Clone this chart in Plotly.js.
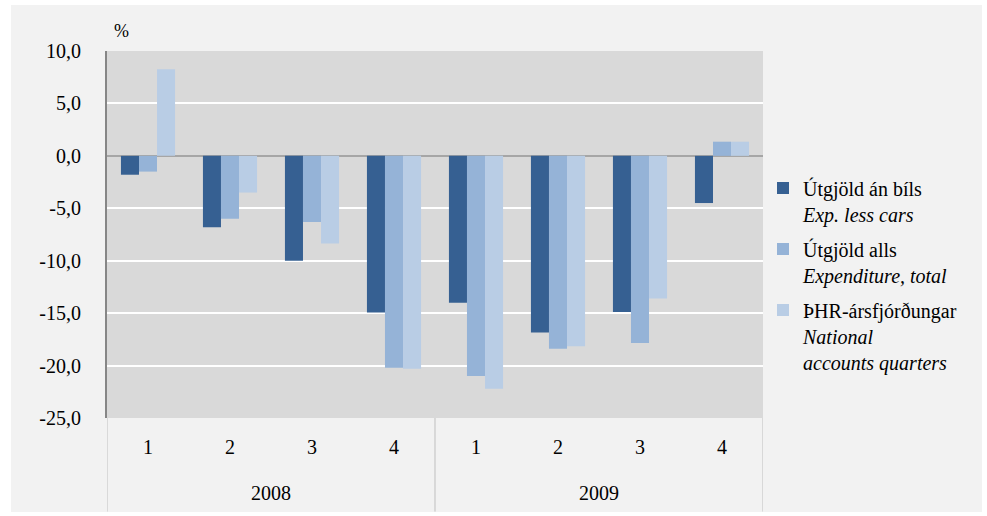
<!DOCTYPE html>
<html><head><meta charset="utf-8">
<script src="https://cdn.plot.ly/plotly-3.0.1.min.js"></script>
<style>html,body{margin:0;padding:0;background:#fff;}#chart{position:absolute;left:11px;top:5px;width:971px;height:507px;}</style>
</head><body><div id="chart"></div>
<script>
const years = ['2008','2008','2008','2008','2009','2009','2009','2009'];
const quarters = ['1','2','3','4','1','2','3','4'];
const yearLabels = ['2008', '2009'];
const expLessCars = [-1.8, -6.8, -10.0, -14.95, -14.0, -16.85, -14.9, -4.5];
const expTotal = [-1.5, -6.0, -6.3, -20.2, -21.0, -18.4, -17.85, 1.35];
const naQuarters = [8.25, -3.5, -8.35, -20.3, -22.2, -18.15, -13.6, 1.35];
const seriesNames = ['Útgjöld án bíls<br><i>Exp. less cars</i>', 'Útgjöld alls<br><i>Expenditure, total</i>', 'ÞHR-ársfjórðungar<br><i>National</i><br><i>accounts quarters</i>'];
const yTickVals = [10, 5, 0, -5, -10, -15, -20, -25];
const yTickText = ['10,0', '5,0', '0,0', '-5,0', '-10,0', '-15,0', '-20,0', '-25,0'];
const colors = ['#366092', '#95b3d7', '#b9cde5'];

const cats = years.map((y, i) => y + '-' + quarters[i]);
const data = [expLessCars, expTotal, naQuarters].map((vals, i) => ({
  type: 'bar', x: cats, y: vals, name: seriesNames[i], legendgroup: 'g' + i,
  marker: {color: colors[i], line: {width: 0}}
}));
const F = (size) => ({family: 'Liberation Serif', size: size, color: '#000000'});

const annotations = [{text: '%', xref: 'paper', yref: 'paper', x: 0.022, y: 1.0, xanchor: 'center', yanchor: 'bottom', showarrow: false, font: F(18), yshift: 8}];
yearLabels.forEach((yr) => {
  const idx = years.map((y, i) => y === yr ? i : -1).filter(i => i >= 0);
  const mid = (idx[0] + idx[idx.length - 1]) / 2;
  annotations.push({text: yr, xref: 'x', yref: 'paper', x: mid, y: 0, yshift: -75, xanchor: 'center', yanchor: 'middle', showarrow: false, font: F(20)});
});
const shapes = [];
const bounds = [-0.5];
yearLabels.forEach(yr => { bounds.push(years.lastIndexOf(yr) + 0.5); });
bounds.forEach(b => shapes.push({type: 'line', xref: 'x', yref: 'paper', x0: b, x1: b, y0: 0, y1: -0.255, line: {color: '#bfbfbf', width: 1}}));

const layout = {
  width: 971, height: 507,
  paper_bgcolor: '#f2f2f2', plot_bgcolor: '#d9d9d9',
  margin: {l: 96, r: 219, t: 46, b: 94},
  font: F(20),
  barmode: 'group', bargap: 0.34, bargroupgap: 0,
  showlegend: true,
  legend: {x: 1.0, xanchor: 'left', y: 0.68, yanchor: 'top', font: F(20),
           bgcolor: 'rgba(0,0,0,0)', itemwidth: 30, traceorder: 'grouped', tracegroupgap: 6, valign: 'top'},
  xaxis: {type: 'category', tickvals: cats, ticktext: quarters, showgrid: false, showline: false,
          ticks: 'outside', ticklen: 11, tickcolor: 'rgba(0,0,0,0)', tickfont: F(20), range: [-0.5, 7.5]},
  yaxis: {range: [-25, 10], tickvals: yTickVals, ticktext: yTickText, tickfont: F(20),
          showgrid: true, gridcolor: '#ffffff', gridwidth: 2,
          zeroline: true, zerolinecolor: '#a6a6a6', zerolinewidth: 2,
          showline: true, linecolor: '#868686', linewidth: 2,
          ticks: 'outside', ticklen: 20, tickcolor: 'rgba(0,0,0,0)'},
  annotations: annotations,
  shapes: shapes
};
Plotly.newPlot('chart', data, layout, {displayModeBar: false});
</script></body></html>
